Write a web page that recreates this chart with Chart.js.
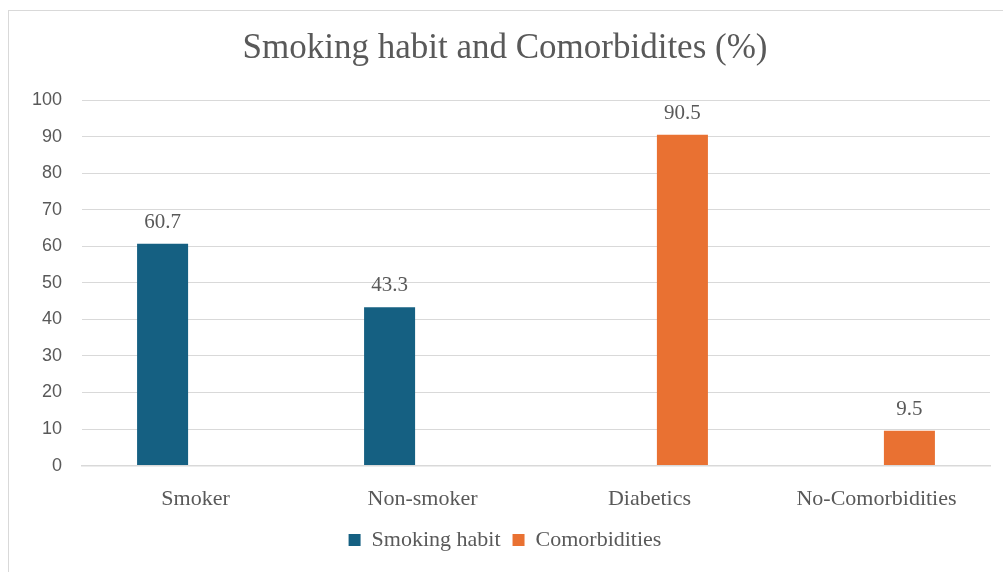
<!DOCTYPE html>
<html>
<head>
<meta charset="utf-8">
<script src="https://cdn.jsdelivr.net/npm/chart.js@4.4.1/dist/chart.umd.min.js"></script>
<style>
  html, body { margin: 0; padding: 0; background: #ffffff; overflow: hidden; }
  #frame { position: absolute; left: 8px; top: 10px; width: 1100px; height: 700px; border: 1px solid #d9d9d9; box-sizing: border-box; }
  #wrap { position: absolute; left: 0; top: 0; width: 1003px; height: 572px; }
</style>
</head>
<body>
<div id="frame"></div>
<div id="wrap"><canvas id="c" width="1003" height="572"></canvas></div>
<script>
const categories = ["Smoker", "Non-smoker", "Diabetics", "No-Comorbidities"];
const smokingHabit = [60.7, 43.3, null, null];
const comorbidities = [null, null, 90.5, 9.5];
const seriesNames = ["Smoking habit", "Comorbidities"];
const titleText = "Smoking habit and Comorbidites (%)";

const textColor = "#595959";
const serif = "'Liberation Serif', 'Times New Roman', serif";
const sans = "'Liberation Sans', Arial, sans-serif";

Chart.defaults.font.family = serif;
Chart.defaults.color = textColor;

const valueLabels = {
  id: "valueLabels",
  afterDatasetsDraw(chart) {
    const ctx = chart.ctx;
    ctx.save();
    ctx.font = "21px " + serif;
    ctx.fillStyle = textColor;
    ctx.textAlign = "center";
    ctx.textBaseline = "alphabetic";
    chart.data.datasets.forEach((ds, i) => {
      const meta = chart.getDatasetMeta(i);
      meta.data.forEach((bar, j) => {
        const v = ds.data[j];
        if (v === null || v === undefined) return;
        ctx.fillText(String(v), bar.x, bar.y - 16);
      });
    });
    ctx.restore();
  }
};

new Chart(document.getElementById("c"), {
  type: "bar",
  data: {
    labels: categories,
    datasets: [
      { label: seriesNames[0], data: smokingHabit, backgroundColor: "#156082", categoryPercentage: 0.58, barPercentage: 0.775 },
      { label: seriesNames[1], data: comorbidities, backgroundColor: "#E97132", categoryPercentage: 0.58, barPercentage: 0.775 }
    ]
  },
  options: {
    responsive: false,
    animation: false,
    devicePixelRatio: 1,
    layout: { padding: { left: 20, right: 13, top: 0, bottom: 11 } },
    plugins: {
      title: {
        display: true,
        text: titleText,
        color: textColor,
        font: { family: serif, size: 35, weight: "normal" },
        padding: { top: 28, bottom: 30 }
      },
      legend: {
        position: "bottom",
        labels: {
          color: textColor,
          font: { family: serif, size: 22, weight: "normal" },
          boxWidth: 12,
          boxHeight: 12,
          padding: 12
        }
      },
      tooltip: { enabled: false }
    },
    scales: {
      x: {
        grid: { display: false },
        border: { display: true, color: "#d9d9d9", width: 1.5 },
        ticks: { color: textColor, font: { family: serif, size: 22 }, padding: 12 },
        afterFit(scale) { scale.height = 51.4; }
      },
      y: {
        min: 0,
        max: 100,
        ticks: { stepSize: 10, color: textColor, font: { family: sans, size: 18 }, padding: 20 },
        grid: { color: "#d9d9d9", lineWidth: 1, drawTicks: false },
        border: { display: false },
        afterFit(scale) { scale.width = 62; }
      }
    }
  },
  plugins: [valueLabels]
});
</script>
</body>
</html>
